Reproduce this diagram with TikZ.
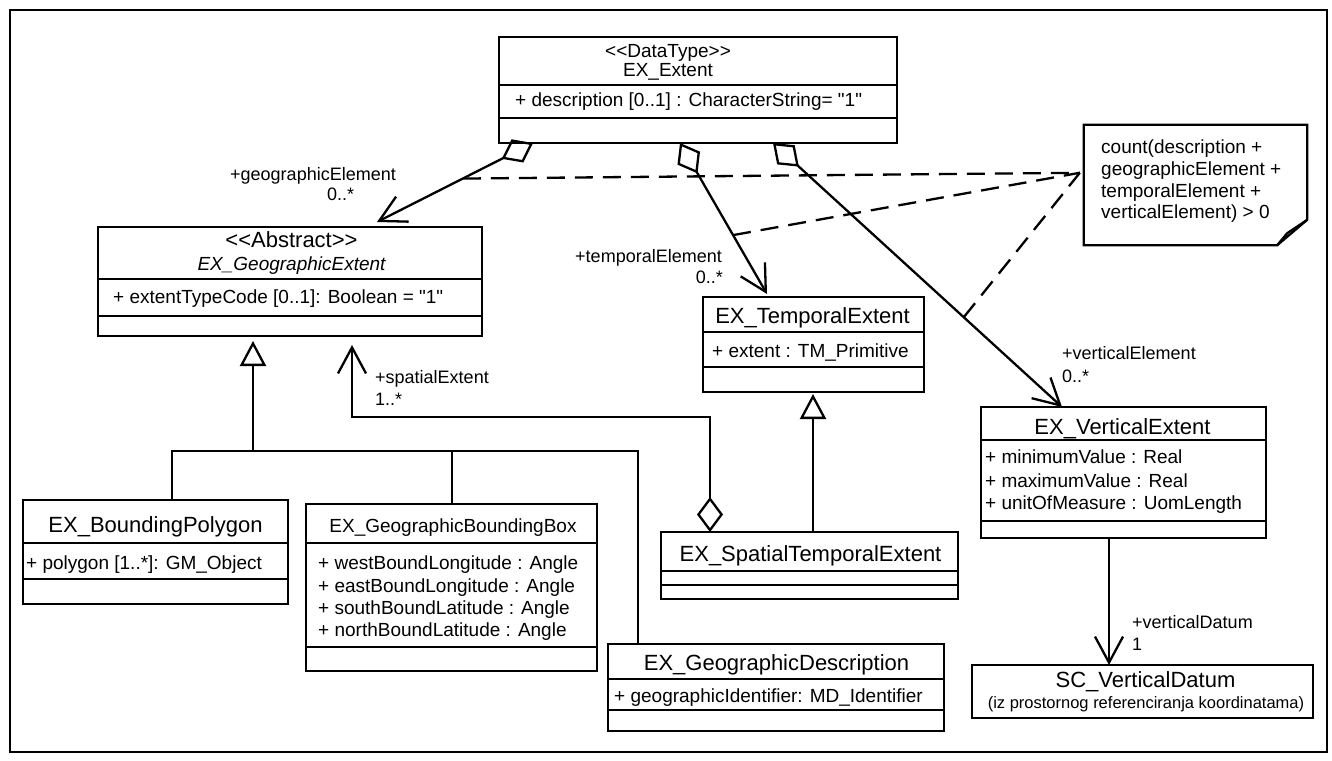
\documentclass[tikz,border=0pt]{standalone}
\usepackage{fontspec}
\newfontfamily\umlf{Liberation Sans}
\usetikzlibrary{arrows.meta,fit,calc}
\tikzset{
  lw/.style={line width=2.3pt},
  cls/.style={lw, draw, inner sep=0pt, outer sep=0pt},
  big/.style={inner sep=0pt, anchor=base, font=\umlf\fontsize{22}{26}\selectfont},
  med/.style={inner sep=0pt, anchor=base, font=\umlf\fontsize{19}{22}\selectfont},
  attr/.style={inner sep=0pt, anchor=base west, font=\umlf\fontsize{19}{22}\selectfont},
  notetxt/.style={inner sep=0pt, anchor=base west, font=\umlf\fontsize{19}{22}\selectfont},
  lbl/.style={inner sep=0pt, anchor=base west, font=\umlf\fontsize{18}{21}\selectfont},
  lblr/.style={lbl, anchor=base east},
  vee/.style={lw, -{Straight Barb[length=26pt,width=28pt]}},
  agg/.style={lw, {Diamond[open,length=35pt,width=26pt]}-{Straight Barb[length=26pt,width=28pt]}},
  gen/.style={lw, -{Triangle[open,length=25pt,width=26pt]}},
  dsh/.style={lw, dash pattern=on 18pt off 10pt},
}
\newcommand\clsep[2]{\draw[lw] (#1.west |- 0,#2) -- (#1.east |- 0,#2);}
\begin{document}
\begin{tikzpicture}[x=1pt,y=-1pt]
\useasboundingbox (0,0) rectangle (1332,760);
\draw[line width=1.9pt] (10,10) rectangle (1327,752);

% EX_Extent
\node[cls, fit={(499,37) (897,143)}] (ext) {};
\clsep{ext}{85} \clsep{ext}{118}
\node[med] (ext-s) at (668,57) {<<DataType>>};
\node[med] (ext-n) at (668,77) {EX\_Extent};
\node[attr] (ext-a) at (515,106) {+ description [0..1] : CharacterString= "1"};

% EX_GeographicExtent
\node[cls, fit={(98,227) (482,336)}] (gext) {};
\clsep{gext}{279} \clsep{gext}{316}
\node[big] (gext-s) at (291.5,247) {<<Abstract>>};
\node[med] (gext-n) at (291.5,270) {\itshape EX\_GeographicExtent};
\node[attr] (gext-a) at (113,303) {+ extentTypeCode [0..1]: Boolean = "1"};

% EX_TemporalExtent
\node[cls, fit={(703,297) (924,392)}] (temp) {};
\clsep{temp}{332} \clsep{temp}{367}
\node[big] (temp-n) at (812.5,323) {EX\_TemporalExtent};
\node[attr] (temp-a) at (712,357) {+ extent : TM\_Primitive};

% EX_VerticalExtent
\node[cls, fit={(981,407) (1266,538)}] (vert) {};
\clsep{vert}{440} \clsep{vert}{521}
\node[big] (vert-n) at (1122.5,434) {EX\_VerticalExtent};
\node[attr] (vert-a1) at (985,463) {+ minimumValue : Real};
\node[attr] (vert-a2) at (985,487) {+ maximumValue : Real};
\node[attr] (vert-a3) at (985,509) {+ unitOfMeasure : UomLength};

% SC_VerticalDatum
\node[cls, fit={(972,665) (1313,718)}] (sc) {};
\node[big] (sc-n) at (1145.5,687) {SC\_VerticalDatum};
\node[inner sep=0pt, anchor=base, font=\umlf\fontsize{16.5}{18}\selectfont] (sc-s) at (1146,708) {(iz prostornog referenciranja koordinatama)};

% EX_BoundingPolygon
\node[cls, fit={(23,500) (288,604)}] (bpoly) {};
\clsep{bpoly}{543} \clsep{bpoly}{579}
\node[big] (bpoly-n) at (155.5,532) {EX\_BoundingPolygon};
\node[attr] (bpoly-a) at (26,569) {+ polygon [1..*]: GM\_Object};

% EX_GeographicBoundingBox
\node[cls, fit={(306,504) (597,671)}] (gbbox) {};
\clsep{gbbox}{543} \clsep{gbbox}{647}
\node[med] (gbbox-n) at (453,532) {EX\_GeographicBoundingBox};
\node[attr] (gbbox-a1) at (318,569) {+ westBoundLongitude : Angle};
\node[attr] (gbbox-a2) at (318,592) {+ eastBoundLongitude : Angle};
\node[attr] (gbbox-a3) at (318,614) {+ southBoundLatitude : Angle};
\node[attr] (gbbox-a4) at (318,636) {+ northBoundLatitude : Angle};

% EX_GeographicDescription
\node[cls, fit={(608,644) (944,731)}] (gdesc) {};
\clsep{gdesc}{679} \clsep{gdesc}{710}
\node[big] (gdesc-n) at (776.5,670) {EX\_GeographicDescription};
\node[attr] (gdesc-a) at (614,702) {+ geographicIdentifier: MD\_Identifier};

% EX_SpatialTemporalExtent
\node[cls, fit={(661,532) (958,599)}] (stext) {};
\clsep{stext}{571} \clsep{stext}{585}
\node[big] (stext-n) at (810.5,561) {EX\_SpatialTemporalExtent};

% note
\node[inner sep=0pt, fit={(1084,125) (1307,245)}] (note) {};
\draw[lw] (note.north west) -- (note.north east) -- ($(note.north east)+(0,95)$) -- ($(note.south east)+(-30,0)$) -- (note.south west) -- cycle;
\draw[lw] ($(note.south east)+(-30,0)$) -- ($(note.south east)+(-20,-12)$) -- ($(note.north east)+(0,95)$);
\node[notetxt] (note-1) at (1101,153) {count(description +};
\node[notetxt] (note-2) at (1101,175) {geographicElement +};
\node[notetxt] (note-3) at (1101,197) {temporalElement +};
\node[notetxt] (note-4) at (1101,218) {verticalElement) > 0};

% aggregations from EX_Extent
\coordinate (g1) at (ext.south -| 533,0);
\coordinate (g2) at ($(gext.north -| 377,0)+(0,-5)$);
\coordinate (t1) at (ext.south -| 680,0);
\coordinate (t2) at ($(temp.north -| 767,0)+(0,-3)$);
\coordinate (v1) at (ext.south -| 773,0);
\coordinate (v2) at (vert.north -| 1062,0);
\draw[agg] (g1) -- (g2);
\draw[agg] (t1) -- (t2);
\draw[agg] (v1) -- (v2);
\draw[vee] (vert.south -| 1109,0) -- (sc.north -| 1109,0);

% spatial extent
\coordinate (sbend) at (352,417);
\draw[agg] (stext.north -| 710,0) |- (sbend) -- ($(gext.south -| 352,0)+(0,9)$);

% generalizations
\coordinate (tree) at (253,451);
\draw[gen] (tree) -- ($(gext.south -| 253,0)+(0,5)$);
\draw[lw] (bpoly.north -| 172,0) |- (tree) -| (gdesc.north -| 638,0);
\draw[lw] (gbbox.north -| 452,0) -- (tree -| 452,0);
\draw[gen] (stext.north -| 813,0) -- ($(temp.south -| 813,0)+(0,2)$);

% constraint links
\coordinate (nc) at ($(note.north west)+(-4,48)$);
\draw[dsh] ($(g1)!0.45!(g2)$) -- (nc);
\draw[dsh] ($(t1)!0.61!(t2)$) -- (nc);
\draw[dsh] ($(v1)!0.66!(v2)$) -- (nc);

% role labels
\node[lbl] (l-geo) at (230,180) {+geographicElement};
\node[lbl] (l-geom) at (327,200) {0..*};
\node[lblr] (l-tem) at (722,262) {+temporalElement};
\node[lblr] (l-temm) at (723,283) {0..*};
\node[lbl] (l-ver) at (1062,359) {+verticalElement};
\node[lbl] (l-verm) at (1062,382) {0..*};
\node[lbl] (l-dat) at (1132,628) {+verticalDatum};
\node[lbl] (l-datm) at (1132,650) {1};
\node[lbl] (l-spa) at (375,383) {+spatialExtent};
\node[lbl] (l-spam) at (375,405) {1..*};
\end{tikzpicture}
\end{document}
